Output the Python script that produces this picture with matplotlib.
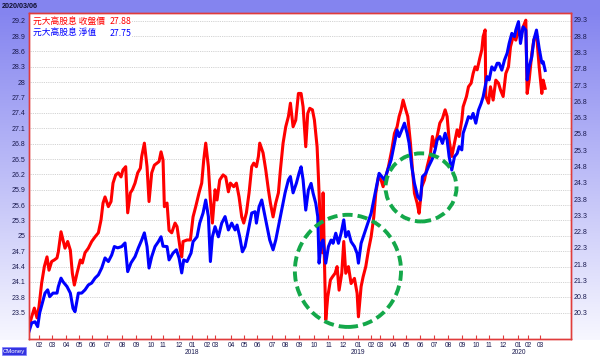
import numpy as np
import matplotlib
matplotlib.use("Agg")
import matplotlib.pyplot as plt
from matplotlib.patches import Ellipse, Rectangle


# ===== data: x = trading-day index counted from first day (2017/01) =====
red_day = [0, 4, 8, 12, 15, 19, 23, 27, 30, 34, 38, 42, 44, 48, 51, 54, 58, 62, 65, 68,
           72, 77, 80, 84, 89, 94, 99, 104, 108, 111, 114, 119, 123, 126, 130, 134, 138, 141, 145, 148,
           152, 155, 159, 163, 167, 169, 173, 177, 180, 184, 188, 192, 195, 198, 201, 203, 207, 210, 214, 219,
           222, 227, 229, 231, 237, 242, 246, 250, 255, 259, 262, 265, 269, 272, 275, 279, 282, 286, 291, 295,
           299, 302, 307, 311, 315, 319, 322, 326, 330, 334, 337, 341, 344, 346, 351, 355, 359, 362, 366, 370,
           374, 377, 381, 385, 389, 392, 396, 400, 404, 408, 411, 415, 418, 421, 425, 428, 432, 434, 436, 440,
           441, 443, 445, 448, 452, 455, 459, 462, 465, 469, 472, 475, 479, 483, 488, 492, 494, 498, 501, 505,
           509, 513, 517, 520, 524, 528, 531, 535, 539, 544, 548, 552, 555, 558, 561, 565, 568, 572, 575, 578,
           582, 585, 589, 593, 597, 602, 605, 608, 612, 616, 620, 624, 627, 630, 634, 638, 642, 645, 649, 651,
           656, 659, 663, 666, 669, 672, 676, 679, 681, 684, 685, 689, 692, 696, 700, 704, 707, 711, 715, 719,
           722, 726, 730, 734, 737, 741, 745, 747, 750, 754, 757, 761, 765, 769, 771, 774]
red_val = [23.23, 23.42, 23.59, 23.40, 23.62, 24.08, 24.40, 24.59, 24.33, 24.50, 24.53, 24.57, 24.69, 25.08, 24.92, 24.76, 24.89, 24.72, 24.27, 24.04,
           24.27, 24.53, 24.47, 24.67, 24.76, 24.89, 24.98, 25.06, 25.31, 25.64, 25.76, 25.57, 25.67, 26.03, 26.19, 26.23, 26.15, 26.29, 26.35, 25.45,
           25.84, 25.90, 26.03, 26.23, 26.32, 26.55, 26.81, 26.35, 25.67, 26.23, 26.38, 26.42, 26.45, 26.64, 26.48, 25.57, 25.64, 25.11, 25.06, 25.25,
           25.18, 24.72, 24.59, 24.89, 24.92, 24.92, 25.37, 25.57, 25.84, 26.03, 26.48, 26.81, 26.35, 25.70, 25.25, 25.90, 25.70, 26.09, 26.19, 26.15,
           25.86, 26.03, 25.96, 26.03, 25.76, 25.37, 25.25, 25.45, 25.84, 26.35, 26.42, 26.35, 26.55, 26.81, 26.62, 26.29, 25.90, 25.64, 25.37, 25.64,
           25.84, 26.29, 26.81, 27.13, 27.33, 27.59, 27.13, 27.26, 27.78, 27.78, 27.52, 26.74, 27.39, 27.49, 27.46, 27.26, 26.74, 26.15, 25.50, 24.67,
           25.84, 24.53, 23.36, 23.81, 24.14, 24.20, 24.27, 24.40, 23.94, 24.27, 24.89, 24.27, 24.40, 24.07, 24.17, 23.88, 23.42, 24.01, 24.20, 24.40,
           24.72, 24.98, 25.37, 25.83, 26.15, 26.09, 25.96, 26.15, 26.35, 26.68, 27.00, 27.13, 27.33, 27.46, 27.65, 27.46, 27.33, 26.81, 26.29, 25.83,
           25.64, 25.44, 25.96, 26.09, 26.35, 26.61, 26.94, 26.74, 26.94, 27.20, 27.29, 27.46, 27.33, 26.87, 26.55, 26.81, 27.07, 26.94, 27.26, 27.52,
           27.72, 27.91, 27.98, 28.17, 28.30, 28.24, 28.47, 28.63, 28.89, 29.02, 27.72, 27.59, 27.91, 27.65, 28.04, 27.98, 27.85, 27.72, 28.17, 28.30,
           28.69, 28.89, 28.82, 29.02, 28.89, 29.08, 29.21, 27.78, 28.04, 28.56, 28.82, 28.95, 28.30, 27.78, 28.04, 27.88]

blue_day = [0, 4, 9, 13, 16, 20, 24, 28, 31, 36, 42, 44, 48, 51, 57, 62, 66, 69, 74, 79,
            84, 89, 94, 99, 104, 109, 114, 119, 124, 128, 133, 139, 144, 148, 153, 159, 164, 169, 173, 177,
            180, 184, 189, 194, 198, 201, 207, 210, 216, 221, 225, 229, 232, 237, 243, 246, 252, 256, 261, 265,
            269, 272, 275, 279, 284, 289, 294, 299, 304, 309, 312, 316, 320, 324, 329, 334, 339, 341, 345, 349,
            352, 356, 361, 366, 370, 374, 379, 384, 389, 392, 396, 401, 405, 408, 411, 415, 419, 423, 426, 430,
            433, 435, 438, 441, 445, 449, 453, 456, 460, 464, 468, 472, 475, 479, 483, 488, 492, 494, 498, 503,
            508, 513, 517, 522, 525, 529, 533, 538, 543, 548, 552, 555, 559, 563, 567, 570, 574, 578, 583, 587,
            590, 595, 599, 604, 606, 609, 612, 616, 620, 624, 627, 630, 634, 638, 642, 645, 649, 651, 656, 659,
            663, 666, 670, 674, 678, 681, 684, 687, 690, 694, 698, 702, 705, 709, 713, 717, 720, 724, 728, 730,
            734, 737, 741, 745, 747, 750, 754, 757, 761, 765, 769, 771, 774]
blue_val = [19.73, 19.99, 20.03, 19.88, 20.30, 20.61, 20.91, 21.01, 20.80, 20.91, 20.91, 21.11, 21.37, 21.26, 21.11, 20.91, 20.44, 20.34, 20.91, 20.91,
            21.01, 21.16, 21.22, 21.37, 21.47, 21.68, 21.99, 21.88, 22.08, 22.34, 22.30, 22.34, 22.45, 21.57, 21.84, 22.03, 22.30, 22.54, 22.76, 22.34,
            21.68, 22.03, 22.34, 22.49, 22.64, 22.35, 22.34, 21.93, 22.14, 22.24, 21.99, 21.53, 21.93, 21.88, 22.14, 22.49, 22.64, 23.06, 23.37, 23.77,
            23.26, 21.88, 22.64, 22.95, 22.64, 23.06, 23.26, 22.85, 23.06, 22.85, 23.00, 22.64, 22.18, 22.34, 22.85, 23.37, 23.41, 23.06, 23.56, 23.77,
            23.46, 23.06, 22.54, 22.24, 22.54, 22.95, 23.46, 23.99, 24.39, 24.49, 23.99, 24.29, 24.60, 24.79, 24.39, 23.46, 24.08, 24.28, 23.98, 23.67,
            23.26, 21.83, 22.44, 22.54, 21.83, 22.34, 22.54, 22.44, 22.75, 22.44, 22.75, 23.16, 22.64, 22.80, 22.49, 22.34, 22.13, 21.83, 22.44, 22.75,
            23.05, 23.36, 23.77, 24.28, 24.59, 24.49, 24.39, 24.69, 25.00, 25.51, 25.92, 25.72, 25.92, 26.13, 25.82, 25.51, 24.79, 24.28, 23.87, 23.77,
            24.49, 24.59, 24.79, 25.00, 25.10, 25.31, 25.61, 25.72, 25.51, 25.82, 25.61, 25.10, 24.69, 25.10, 25.20, 25.41, 25.31, 25.82, 26.13, 26.33,
            26.28, 26.43, 26.13, 26.53, 26.74, 26.94, 27.25, 27.56, 27.46, 27.86, 27.76, 27.97, 27.97, 27.76, 28.07, 28.28, 28.58, 28.89, 28.79, 28.99,
            29.25, 28.58, 29.09, 28.99, 27.46, 27.86, 28.17, 28.69, 28.99, 28.43, 27.98, 28.02, 27.75]

# first trading day of each month (index) + labels
month_idx = [15, 35, 56, 75, 95, 117, 140, 161, 183, 201, 225,
             245, 267, 279, 303, 323, 342, 365, 384, 405, 428, 449, 471,
             494, 513, 527, 546, 566, 587, 608, 629, 650, 671, 690, 711,
             734, 749, 767]
month_lbl = ["02", "03", "04", "05", "06", "07", "08", "09", "10", "11", "12",
             "01\n2018", "02", "03", "04", "05", "06", "07", "08", "09", "10", "11", "12",
             "01\n2019", "02", "03", "04", "05", "06", "07", "08", "09", "10", "11", "12",
             "01\n2020", "02", "03"]

left_ticks = [23.5, 23.8, 24.1, 24.4, 24.7, 25.0, 25.3, 25.6, 25.9, 26.2,
              26.5, 26.8, 27.1, 27.4, 27.7, 28.0, 28.3, 28.6, 28.9, 29.2]
right_ticks = [20.3, 20.8, 21.3, 21.8, 22.3, 22.8, 23.3, 23.8, 24.3, 24.8,
               25.3, 25.8, 26.3, 26.8, 27.3, 27.8, 28.3, 28.8, 29.3]

name_close = "元大高股息 收盤價"
name_nav = "元大高股息 淨值"
date_str = "2020/03/06"

CJK = ["Noto Sans CJK TC", "DejaVu Sans"]
TICKFONT = "Liberation Sans"
RED = "#ff0000"
BLUE = "#0000ff"
AXRED = "#e03c3c"
LBL = "#1a1a50"

W, H = 600, 356
fig = plt.figure(figsize=(W / 100, H / 100), dpi=100)

# ---- background: purple band + fading gradient ----
bg = fig.add_axes([0, 0, 1, 1], zorder=-10)
grad = np.ones((H, 1, 3))
grad[:13] = [0.52, 0.52, 0.94]
t = np.linspace(0, 1, 327)[:, None]
grad[13:340, 0, :] = (1 - t) * np.array([0.52, 0.52, 0.94]) + t * np.array([0.97, 0.97, 1.0])
bg.imshow(grad, aspect="auto", extent=[0, 1, 0, 1])
bg.axis("off")

# ---- main axes ----
ax = fig.add_axes([29 / W, 17 / H, 541.5 / W, 326 / H])
ax.set_facecolor("white")
ax.plot(red_day, red_val, color=RED, lw=2.2, zorder=2)
ax.set_xlim(0, 812)
ax.set_ylim(22.987, 29.35)
ax.set_yticks(left_ticks)
ax.set_yticklabels(["%g" % v for v in left_ticks])
ax.set_axisbelow(True)
ax.grid(axis="y", color="#c4c4c4", linestyle=(0, (1, 1.2)), linewidth=0.6)
ax.set_xticks(month_idx)
ax.set_xticklabels(month_lbl, linespacing=1.05)
ax.tick_params(axis="x", direction="in", length=3, width=0.8, color=AXRED, pad=2,
               labelsize=4.8, labelcolor=LBL)
ax.tick_params(axis="y", length=0, pad=2.5, labelsize=5, labelcolor=LBL)
for lab in ax.get_xticklabels() + ax.get_yticklabels():
    lab.set_family(TICKFONT)

# white legend box covering the gridlines
ax.add_patch(Rectangle((0.002, 0.917), 0.188, 0.083, transform=ax.transAxes,
                       facecolor="white", edgecolor="none", zorder=1.5))

ax2 = ax.twinx()
ax2.plot(blue_day, blue_val, color=BLUE, lw=2.2, zorder=2)
ax2.set_ylim(19.50, 29.515)
ax2.set_yticks(right_ticks)
ax2.set_yticklabels(["%g" % v for v in right_ticks])
ax2.tick_params(axis="y", length=0, pad=2.5, labelsize=5, labelcolor=LBL)
for lab in ax2.get_yticklabels():
    lab.set_family(TICKFONT)

for a in (ax, ax2):
    for s in a.spines.values():
        s.set_color(AXRED)
        s.set_linewidth(1)

# green dashed circles
ax2.add_patch(Ellipse((0.589, 0.209), 0.196, 0.344, transform=ax2.transAxes, fill=False,
                      edgecolor="#14a84a", lw=2.8, linestyle=(0, (2.6, 1.3)), zorder=5))
ax2.add_patch(Ellipse((0.724, 0.465), 0.131, 0.209, transform=ax2.transAxes, fill=False,
                      edgecolor="#14a84a", lw=2.8, linestyle=(0, (2.6, 1.3)), zorder=5))

# ---- legend text ----
fig.text(33 / W, 1 - 22 / H, name_close, color=RED, fontsize=6.3, va="center", family=CJK)
fig.text(110 / W, 1 - 22 / H, "%.2f" % red_val[-1], color=RED, fontsize=6.3, va="center", family=CJK)
fig.text(33 / W, 1 - 33 / H, name_nav, color=BLUE, fontsize=6.3, va="center", family=CJK)
fig.text(110 / W, 1 - 33 / H, "%.2f" % blue_val[-1], color=BLUE, fontsize=6.3, va="center", family=CJK)

# date on top band + logo box
fig.text(2 / W, 1 - 6.5 / H, date_str, color="#101030", fontsize=5.2, fontweight="bold",
         va="center", family=TICKFONT)
fig.text(3 / W, 1 - 351 / H, "CMoney", color="white", fontsize=4.3, va="center", family=TICKFONT,
         bbox=dict(facecolor="#3434e0", edgecolor="#8080ff", pad=0.8, linewidth=0.5))

fig.savefig("out.png", dpi=100)
